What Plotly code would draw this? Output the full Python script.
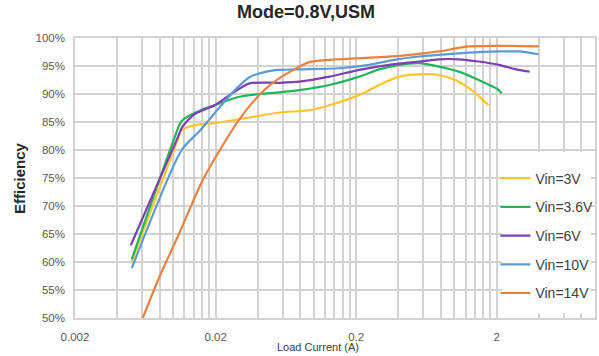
import plotly.graph_objects as go

# Load current (A) and efficiency (%) for each input voltage
i_3v = [0.00505, 0.01075, 0.01148, 0.01467, 0.0197, 0.0348, 0.0569, 0.0928, 0.129, 0.21, 0.291, 0.404, 0.56, 0.776, 1.074, 1.374, 1.75]
e_3v = [60.0, 81.8, 83.6, 84.5, 84.8, 85.8, 86.7, 87.1, 88.0, 89.8, 91.6, 93.1, 93.5, 93.4, 92.2, 90.4, 88.0]

i_36v = [0.00507, 0.01008, 0.01148, 0.0154, 0.0197, 0.0296, 0.041, 0.0569, 0.0789, 0.129, 0.21, 0.291, 0.404, 0.56, 0.776, 1.074, 1.49, 2.07, 2.17]
e_36v = [60.5, 81.8, 85.2, 87.0, 88.0, 89.5, 90.0, 90.3, 90.7, 91.6, 93.1, 94.4, 95.2, 95.5, 94.9, 94.0, 92.5, 90.7, 90.1]

i_6v = [0.00499, 0.01058, 0.01167, 0.0142, 0.0197, 0.0273, 0.0348, 0.0569, 0.0789, 0.129, 0.21, 0.343, 0.56, 0.776, 1.074, 1.49, 2.07, 2.86, 3.43]
e_6v = [63.0, 81.8, 84.2, 86.4, 88.0, 90.4, 91.9, 92.0, 92.2, 93.1, 94.3, 95.2, 95.8, 96.2, 96.2, 95.8, 95.2, 94.3, 94.0]

i_10v = [0.00507, 0.01148, 0.0154, 0.0213, 0.0282, 0.0348, 0.046, 0.0569, 0.0789, 0.151, 0.247, 0.372, 0.56, 0.776, 1.266, 2.07, 2.86, 3.97]
e_10v = [58.9, 80.0, 83.4, 87.6, 91.0, 93.0, 94.0, 94.3, 94.4, 94.6, 95.2, 96.1, 96.7, 97.0, 97.4, 97.6, 97.6, 97.1]

i_14v = [0.00607, 0.00802, 0.01075, 0.01617, 0.02206, 0.0296, 0.0391, 0.0499, 0.067, 0.0928, 0.129, 0.21, 0.404, 0.659, 0.776, 1.266, 2.07, 3.97]
e_14v = [50.0, 57.5, 64.5, 74.6, 80.5, 85.5, 89.3, 91.8, 93.9, 95.7, 96.1, 96.4, 96.8, 97.4, 97.6, 98.5, 98.6, 98.5]

series_names = ["Vin=3V", "Vin=3.6V", "Vin=6V", "Vin=10V", "Vin=14V"]
series_x = [i_3v, i_36v, i_6v, i_10v, i_14v]
series_y = [e_3v, e_36v, e_6v, e_10v, e_14v]
series_colors = ["#FFC52A", "#22B45A", "#7E3FB5", "#5B9BD5", "#E8823F"]

x_ticks = [0.002, 0.02, 0.2, 2]
x_tick_text = ["0.002", "0.02", "0.2", "2"]
y_ticks = [50, 55, 60, 65, 70, 75, 80, 85, 90, 95, 100]
y_tick_text = [f"{v}%" for v in y_ticks]

# minor grid at 2,4,6,8... steps inside each decade that starts at 0.002
minor_x = [d * m for d in x_ticks for m in range(2, 10)]

GRID = "#d2d2d2"
TICKFONT = dict(family="Liberation Sans, Arial, sans-serif", size=11.5, color="#595959")

fig = go.Figure()
for name, xs, ys, col in zip(series_names, series_x, series_y, series_colors):
    fig.add_trace(go.Scatter(
        x=xs, y=[v / 100 for v in ys], mode="lines", name=name,
        legendgroup=name,
        line=dict(color=col, width=2.2, shape="spline", smoothing=0.7),
    ))

fig.update_layout(
    width=599, height=356,
    margin=dict(l=75, r=4, t=38, b=38, autoexpand=False),
    paper_bgcolor="white", plot_bgcolor="white",
    showlegend=True,
    legend=dict(
        x=0.8085, y=0.555, xanchor="left", yanchor="top",
        bgcolor="rgba(0,0,0,0)", borderwidth=0,
        font=dict(family="Liberation Sans, Arial, sans-serif", size=14, color="#404040"),
        tracegroupgap=7.5, itemwidth=30,
    ),
    xaxis=dict(
        type="log", range=[-2.69897, 1.0],
        tickmode="array", tickvals=x_ticks, ticktext=x_tick_text,
        showgrid=True, gridcolor=GRID, gridwidth=1.5,
        minor=dict(tickmode="array", tickvals=minor_x, showgrid=True,
                   gridcolor=GRID, gridwidth=1.5),
        showline=True, linecolor=GRID, linewidth=1.5, mirror=True,
        ticks="", ticklabelstandoff=7, tickfont=TICKFONT,
        zeroline=False,
    ),
    yaxis=dict(
        range=[0.5, 1.0], tickmode="array",
        tickvals=[v / 100 for v in y_ticks], ticktext=y_tick_text,
        showgrid=True, gridcolor=GRID, gridwidth=1.8,
        showline=True, linecolor=GRID, linewidth=1.5, mirror=True,
        ticks="", ticklabelstandoff=6, tickfont=TICKFONT,
        zeroline=False,
    ),
)

# white panel behind the legend
fig.add_shape(type="rect", xref="x domain", yref="y domain",
              x0=0.821, x1=0.992, y0=0.018, y1=0.593,
              fillcolor="white", line=dict(width=0), layer="above")

fig.add_annotation(text="<b>Mode=0.8V,USM</b>", xref="paper", yref="paper",
                   x=(306 - 75) / 520, y=(318 - 12) / 280, xanchor="center", yanchor="middle",
                   showarrow=False,
                   font=dict(family="Liberation Sans, Arial, sans-serif", size=18, color="#262626"))
fig.add_annotation(text="<b>Efficiency</b>", xref="paper", yref="paper",
                   x=(19 - 75) / 520, y=(318 - 178) / 280, xanchor="center", yanchor="middle",
                   textangle=-90, showarrow=False,
                   font=dict(family="Liberation Sans, Arial, sans-serif", size=15, color="#262626"))
fig.add_annotation(text="Load Current (A)", xref="paper", yref="paper",
                   x=(318 - 75) / 520, y=(318 - 347) / 280, xanchor="center", yanchor="middle",
                   showarrow=False,
                   font=dict(family="Liberation Sans, Arial, sans-serif", size=11, color="#404040"))

fig.write_html("out.html")
